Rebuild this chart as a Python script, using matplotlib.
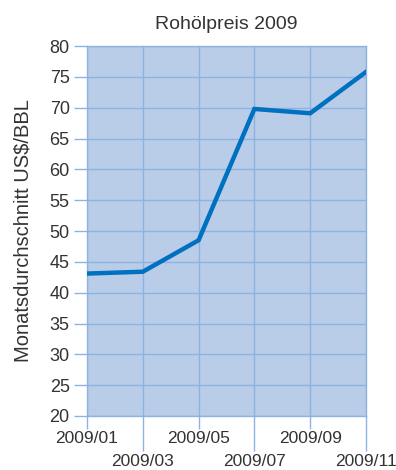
import matplotlib.pyplot as plt

## Data
months = ['2009/01', '2009/03', '2009/05', '2009/07', '2009/09', '2009/11']
price = [43.1, 43.4, 48.5, 69.8, 69.1, 75.8]  # Monatsdurchschnitt US$/BBL
yticks = list(range(20, 85, 5))

plt.rcParams['font.family'] = ['Liberation Sans', 'DejaVu Sans']

grid_col = '#8db3e2'
txt_col = '#333333'
fig = plt.figure(figsize=(3.96, 4.70), dpi=100)
ax = fig.add_axes([0.2197, 0.1149, 0.9242 - 0.2197, 0.902 - 0.1149])
ax.set_facecolor('#b9cde9')

x = list(range(len(months)))
ax.plot(x, price, color='#0070c0', lw=3.2, solid_joinstyle='miter', zorder=3)

ax.set_xlim(0, len(months) - 1)
ax.set_ylim(20, 80)
ax.set_yticks(yticks)
ax.grid(True, color=grid_col, lw=1.0, which='both', zorder=1)
ax.set_axisbelow(True)
for s in ax.spines.values():
    s.set_color(grid_col)
    s.set_linewidth(1.0)

# staggered x labels: major ticks short, minor ticks long
ax.set_xticks(x[0::2])
ax.set_xticklabels(months[0::2])
ax.set_xticks(x[1::2], minor=True)
ax.set_xticklabels(months[1::2], minor=True)
ax.tick_params(axis='x', which='major', length=9, width=1, color=grid_col,
               pad=2, labelsize=12.5, labelcolor=txt_col)
ax.tick_params(axis='x', which='minor', length=25.5, width=1, color=grid_col,
               pad=2, labelsize=12.5, labelcolor=txt_col)
ax.tick_params(axis='y', length=9.5, width=1, color=grid_col, pad=3,
               labelsize=13, labelcolor=txt_col)

ax.set_ylabel('Monatsdurchschnitt US$/BBL', fontsize=14.5, color=txt_col, labelpad=12)
ax.set_title('Rohölpreis 2009', fontsize=14, color=txt_col, pad=12)

fig.savefig('out.png', dpi=100)
